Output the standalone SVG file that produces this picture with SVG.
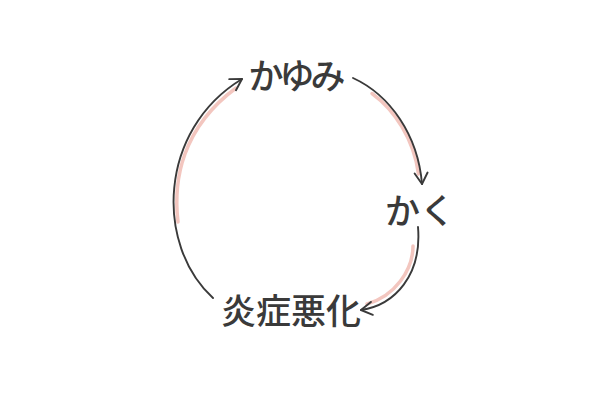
<svg xmlns="http://www.w3.org/2000/svg" width="600" height="400" viewBox="0 0 600 400">
<defs>
<marker id="arrow" markerUnits="userSpaceOnUse" viewBox="-2 -2 15 17" markerWidth="15" markerHeight="17" refX="11" refY="6.5" orient="auto">
<path d="M0,0 L11,6.5 L0,13" fill="none" stroke="#3a3a3a" stroke-width="1.9" stroke-linecap="round" stroke-linejoin="round"/>
</marker>
<style>
.lbl{font-family:"Noto Sans CJK JP","Noto Sans",sans-serif;font-size:35px;font-weight:500;fill:#3a3a3a;text-anchor:middle}
.hl{fill:none;stroke:#f3c6bf;stroke-width:3.5;stroke-linecap:round}
.ln{fill:none;stroke:#3a3a3a;stroke-width:1.9;stroke-linecap:round}
</style>
</defs>
<rect width="600" height="400" fill="#ffffff"/>
<g id="connectors">
<path class="hl" d="M372,93.5 C395,110 414,140 418.5,174"/>
<path class="hl" d="M413,246 C413,270 395,296 367,304"/>
<path class="hl" d="M178,222 C173,180 182,128 236,88"/>
<path class="ln" d="M353,78 C390,95 418,135 422,184" marker-end="url(#arrow)"/>
<path class="ln" d="M418,227 C422,275 395,305 361,310" marker-end="url(#arrow)"/>
<path class="ln" d="M213,298 C155,245 158,130 242,79" marker-end="url(#arrow)"/>
</g>
<g id="node-kayumi"><text class="lbl" x="297" y="88.5" textLength="97" lengthAdjust="spacing">かゆみ</text></g>
<g id="node-kaku"><text class="lbl" x="420" y="223.5">かく</text></g>
<g id="node-enshou"><text class="lbl" x="291" y="324.3">炎症悪化</text></g>
</svg>
